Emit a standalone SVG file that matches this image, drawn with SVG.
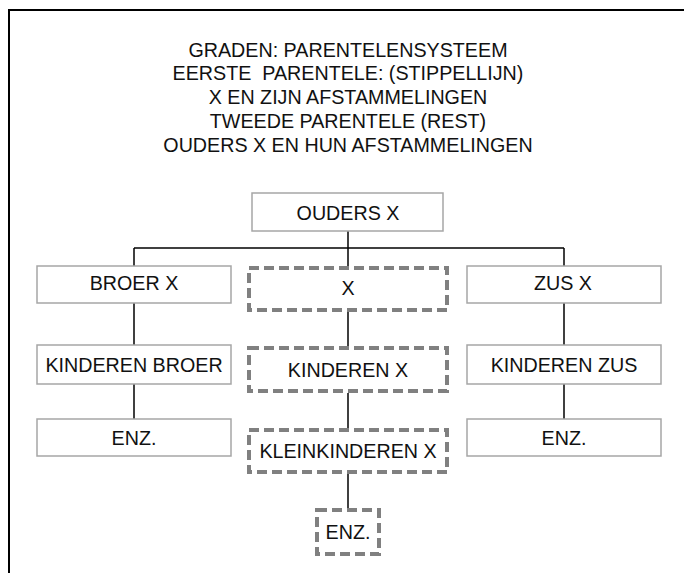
<svg xmlns="http://www.w3.org/2000/svg" width="684" height="573" viewBox="0 0 684 573">
<style>
text{font-family:"Liberation Sans",Arial,sans-serif;fill:#111;text-anchor:middle;white-space:pre;font-size:19.7px}
.box{fill:#fff;stroke:#a6a6a6;stroke-width:1.5}
.dash{fill:#fff;stroke:#808080;stroke-width:4;stroke-dasharray:10 5}
.con line{stroke:#000;stroke-width:1.5}
</style>
<rect width="684" height="573" fill="#fff"/>
<path d="M9,573 V10 H684" fill="none" stroke="#000" stroke-width="2"/>
<g id="title">
<text x="348" y="57">GRADEN: PARENTELENSYSTEEM</text>
<text x="348" y="80">EERSTE  PARENTELE: (STIPPELLIJN)</text>
<text x="348" y="103.5">X EN ZIJN AFSTAMMELINGEN</text>
<text x="348" y="128">TWEEDE PARENTELE (REST)</text>
<text x="348" y="151.5">OUDERS X EN HUN AFSTAMMELINGEN</text>
</g>
<g id="connectors" class="con">
<line x1="348" y1="231" x2="348" y2="266"/>
<line x1="134" y1="248" x2="564" y2="248"/>
<line x1="134" y1="248" x2="134" y2="266"/>
<line x1="564" y1="248" x2="564" y2="266"/>
<line x1="134" y1="303" x2="134" y2="345"/>
<line x1="134" y1="384" x2="134" y2="419"/>
<line x1="564" y1="303" x2="564" y2="345"/>
<line x1="564" y1="384" x2="564" y2="419"/>
<line x1="348" y1="312" x2="348" y2="346"/>
<line x1="348" y1="393" x2="348" y2="428"/>
<line x1="348" y1="474" x2="348" y2="508"/>
</g>
<g id="ouders"><rect class="box" x="252" y="193" width="191" height="38"/><text x="348" y="220">OUDERS X</text></g>
<g id="broer"><rect class="box" x="37" y="266" width="194" height="37"/><text x="134" y="289.5">BROER X</text></g>
<g id="x"><rect class="dash" x="249" y="268" width="198" height="42"/><text x="348" y="295">X</text></g>
<g id="zus"><rect class="box" x="467" y="266" width="194" height="37"/><text x="563" y="289.5">ZUS X</text></g>
<g id="kinderen-broer"><rect class="box" x="37" y="345" width="194" height="39"/><text x="134" y="372">KINDEREN BROER</text></g>
<g id="kinderen-x"><rect class="dash" x="249" y="348" width="198" height="43"/><text x="348" y="377">KINDEREN X</text></g>
<g id="kinderen-zus"><rect class="box" x="467" y="345" width="194" height="39"/><text x="564" y="372">KINDEREN ZUS</text></g>
<g id="enz-broer"><rect class="box" x="37" y="419" width="194" height="37"/><text x="134" y="444.5">ENZ.</text></g>
<g id="kleinkinderen-x"><rect class="dash" x="249" y="430" width="198" height="42"/><text x="348" y="458">KLEINKINDEREN X</text></g>
<g id="enz-zus"><rect class="box" x="467" y="419" width="194" height="37"/><text x="564" y="444.5">ENZ.</text></g>
<g id="enz-x"><rect class="dash" x="317" y="510" width="62" height="44"/><text x="348" y="539">ENZ.</text></g>
</svg>
